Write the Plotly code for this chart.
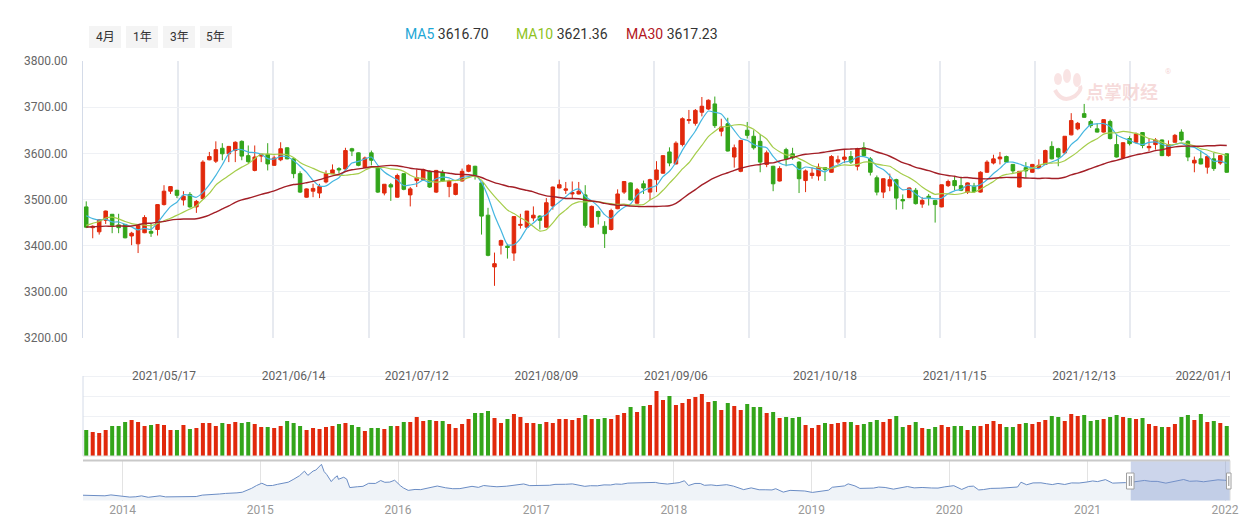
import pandas as pd
import plotly.graph_objects as go

W, H = 1246, 519

# ---------------- data ----------------
holidays = ['2021-05-03', '2021-05-04', '2021-05-05', '2021-06-14', '2021-09-20', '2021-09-21',
            '2021-10-01', '2021-10-04', '2021-10-05', '2021-10-06', '2021-10-07', '2022-01-03']
dates = [d.strftime('%Y-%m-%d') for d in pd.bdate_range('2021-04-26', '2022-01-13')
         if d.strftime('%Y-%m-%d') not in holidays]

open_ = [3484, 3439, 3430, 3455, 3468, 3445, 3446, 3421, 3404, 3428, 3431, 3435, 3489, 3518, 3520, 3499, 3511, 3484, 3502, 3586,
         3583, 3611, 3599, 3606, 3626, 3595, 3563, 3594, 3598, 3574, 3586, 3612, 3588, 3556, 3505, 3518, 3514, 3538, 3556, 3567,
         3566, 3610, 3601, 3569, 3601, 3570, 3514, 3532, 3505, 3556, 3510, 3541, 3543, 3561, 3516, 3559, 3528, 3511, 3540, 3561,
         3572, 3536, 3466, 3354, 3401, 3399, 3384, 3444, 3440, 3460, 3464, 3440, 3486, 3525, 3520, 3512, 3512, 3510, 3440, 3474,
         3442, 3435, 3480, 3516, 3536, 3492, 3534, 3516, 3543, 3557, 3603, 3577, 3619, 3671, 3665, 3689, 3696, 3707, 3648, 3664,
         3592, 3561, 3650, 3637, 3626, 3576, 3572, 3540, 3608, 3599, 3581, 3541, 3552, 3551, 3569, 3559, 3581, 3587, 3593, 3572,
         3612, 3588, 3547, 3516, 3529, 3543, 3500, 3504, 3520, 3490, 3507, 3498, 3484, 3530, 3541, 3530, 3516, 3529, 3516, 3559,
         3579, 3588, 3593, 3576, 3527, 3569, 3559, 3569, 3576, 3615, 3610, 3601, 3640, 3653, 3686, 3669, 3653, 3646, 3669, 3619,
         3590, 3632, 3624, 3645, 3612, 3619, 3629, 3595, 3624, 3646, 3626, 3579, 3588, 3570, 3588, 3579, 3599]
high = [3496, 3444, 3457, 3476, 3468, 3469, 3447, 3430, 3445, 3466, 3448, 3490, 3531, 3529, 3521, 3518, 3516, 3499, 3585, 3603,
        3626, 3622, 3616, 3626, 3628, 3617, 3617, 3599, 3622, 3595, 3624, 3613, 3589, 3561, 3524, 3534, 3534, 3563, 3576, 3570,
        3612, 3612, 3602, 3593, 3606, 3572, 3533, 3536, 3556, 3557, 3527, 3565, 3567, 3563, 3564, 3564, 3543, 3536, 3567, 3576,
        3573, 3538, 3482, 3385, 3413, 3404, 3464, 3469, 3475, 3485, 3466, 3503, 3528, 3543, 3538, 3539, 3538, 3531, 3487, 3476,
        3453, 3480, 3522, 3540, 3537, 3525, 3541, 3545, 3583, 3596, 3613, 3626, 3678, 3694, 3696, 3722, 3717, 3723, 3675, 3677,
        3619, 3629, 3668, 3650, 3642, 3606, 3573, 3572, 3612, 3612, 3583, 3565, 3569, 3578, 3570, 3596, 3595, 3608, 3605, 3612,
        3624, 3592, 3552, 3546, 3556, 3545, 3511, 3526, 3525, 3505, 3512, 3499, 3532, 3543, 3550, 3548, 3537, 3536, 3561, 3585,
        3597, 3603, 3595, 3577, 3561, 3581, 3577, 3587, 3608, 3626, 3612, 3637, 3687, 3668, 3707, 3673, 3665, 3673, 3673, 3642,
        3624, 3637, 3645, 3646, 3633, 3633, 3630, 3628, 3642, 3652, 3628, 3593, 3606, 3594, 3601, 3596, 3600]
low = [3438, 3416, 3424, 3447, 3427, 3427, 3416, 3401, 3384, 3427, 3419, 3422, 3487, 3512, 3503, 3487, 3482, 3471, 3499, 3585,
       3579, 3585, 3581, 3581, 3585, 3579, 3561, 3581, 3563, 3573, 3583, 3587, 3546, 3514, 3504, 3505, 3503, 3535, 3555, 3557,
       3565, 3594, 3572, 3568, 3574, 3514, 3509, 3497, 3504, 3520, 3485, 3527, 3541, 3525, 3514, 3538, 3505, 3509, 3539, 3559,
       3543, 3424, 3377, 3313, 3381, 3372, 3367, 3437, 3439, 3453, 3435, 3439, 3478, 3524, 3512, 3502, 3511, 3439, 3439, 3446,
       3395, 3433, 3479, 3512, 3498, 3491, 3512, 3499, 3516, 3556, 3572, 3576, 3615, 3664, 3660, 3680, 3694, 3655, 3637, 3604,
       3569, 3559, 3632, 3608, 3559, 3570, 3518, 3539, 3572, 3586, 3514, 3516, 3545, 3541, 3540, 3558, 3576, 3579, 3577, 3563,
       3594, 3552, 3509, 3503, 3518, 3478, 3479, 3503, 3489, 3482, 3487, 3450, 3483, 3527, 3520, 3518, 3512, 3514, 3515, 3558,
       3576, 3576, 3579, 3557, 3526, 3547, 3558, 3568, 3575, 3587, 3572, 3598, 3639, 3650, 3677, 3655, 3645, 3645, 3630, 3591,
       3588, 3617, 3621, 3611, 3605, 3608, 3594, 3593, 3623, 3626, 3583, 3559, 3576, 3556, 3562, 3575, 3558]
close = [3440, 3442, 3456, 3475, 3444, 3439, 3417, 3427, 3444, 3461, 3427, 3489, 3518, 3528, 3509, 3507, 3484, 3496, 3581, 3593,
         3608, 3599, 3615, 3624, 3594, 3582, 3592, 3598, 3577, 3590, 3610, 3588, 3556, 3516, 3523, 3524, 3528, 3556, 3564, 3564,
         3606, 3605, 3574, 3590, 3585, 3516, 3533, 3527, 3552, 3522, 3523, 3547, 3565, 3527, 3563, 3540, 3540, 3534, 3561, 3574,
         3552, 3464, 3379, 3361, 3411, 3396, 3463, 3446, 3475, 3466, 3455, 3493, 3527, 3532, 3523, 3515, 3518, 3444, 3485, 3463,
         3426, 3476, 3512, 3539, 3499, 3521, 3525, 3543, 3564, 3595, 3579, 3622, 3675, 3673, 3693, 3702, 3715, 3660, 3657, 3605,
         3612, 3628, 3639, 3612, 3581, 3601, 3534, 3567, 3588, 3590, 3545, 3562, 3557, 3570, 3565, 3593, 3586, 3592, 3581, 3610,
         3595, 3559, 3516, 3545, 3543, 3503, 3497, 3525, 3491, 3498, 3504, 3489, 3532, 3539, 3530, 3520, 3536, 3517, 3559, 3581,
         3588, 3592, 3581, 3562, 3561, 3562, 3576, 3574, 3606, 3588, 3592, 3637, 3671, 3665, 3678, 3660, 3646, 3673, 3632, 3592,
         3623, 3621, 3642, 3617, 3615, 3629, 3595, 3619, 3639, 3629, 3592, 3585, 3577, 3593, 3567, 3595, 3559]
volume = [260, 240, 230, 260, 300, 300, 340, 360, 340, 300, 310, 320, 310, 260, 260, 310, 270, 280, 330, 330,
          300, 330, 320, 340, 330, 340, 320, 290, 290, 280, 300, 350, 330, 300, 260, 280, 270, 290, 300, 320,
          330, 310, 290, 250, 280, 280, 270, 300, 300, 340, 340, 390, 350, 360, 350, 350, 320, 280, 320, 370,
          430, 430, 450, 380, 330, 370, 420, 390, 330, 330, 320, 340, 330, 370, 370, 360, 380, 410, 370, 370,
          380, 370, 410, 430, 490, 440, 500, 510, 650, 560, 600, 510, 530, 570, 590, 620, 540, 550, 460, 530,
          500, 460, 520, 490, 490, 430, 440, 380, 390, 380, 390, 310, 280, 310, 330, 320, 330, 340, 340, 310,
          320, 340, 360, 340, 370, 400, 290, 310, 340, 280, 270, 290, 310, 290, 300, 300, 260, 300, 300, 320,
          350, 320, 290, 290, 320, 330, 320, 340, 360, 400, 390, 350, 420, 400, 410, 350, 360, 370, 390, 410,
          390, 380, 370, 380, 320, 300, 290, 290, 320, 390, 410, 360, 420, 340, 350, 330, 300]
# closes of the 29 sessions before the first candle (needed for the moving averages)
prior_close = [3419, 3446, 3445, 3463, 3405, 3443, 3411, 3367, 3363, 3418, 3435, 3457, 3441, 3466, 3484,
               3482, 3479, 3482, 3451, 3413, 3397, 3416, 3399, 3426, 3477, 3473, 3472, 3465, 3474]

date_labels = ['2021/05/17', '2021/06/14', '2021/07/12', '2021/08/09', '2021/09/06',
               '2021/10/18', '2021/11/15', '2021/12/13', '2022/01/10']
date_label_idx = [12, 32, 51, 71, 91, 114, 134, 154, 173]

ma_names = ['MA5', 'MA10', 'MA30']
ma_periods = [5, 10, 30]
ma_legend_values = ['3616.70', '3621.36', '3617.23']
range_buttons = ['4月', '1年', '3年', '5年']

nav_dates = ['2013-09-18', '2013-10-01', '2013-10-15', '2013-11-01', '2013-11-15', '2013-12-01', '2013-12-16',
             '2014-01-02', '2014-01-20', '2014-02-05', '2014-02-20', '2014-03-10', '2014-03-25', '2014-04-10',
             '2014-04-25', '2014-05-15', '2014-06-03', '2014-06-20', '2014-07-01', '2014-07-15', '2014-07-31',
             '2014-08-15', '2014-09-01', '2014-09-15', '2014-10-01', '2014-10-15', '2014-10-31', '2014-11-14',
             '2014-11-28', '2014-12-09', '2014-12-22', '2015-01-05', '2015-01-19', '2015-02-02', '2015-02-16',
             '2015-03-02', '2015-03-16', '2015-03-31', '2015-04-15', '2015-04-28', '2015-05-07', '2015-05-21',
             '2015-05-28', '2015-06-12', '2015-06-19', '2015-06-26', '2015-07-08', '2015-07-15', '2015-07-24',
             '2015-07-27', '2015-08-10', '2015-08-18', '2015-08-26', '2015-09-15', '2015-09-30', '2015-10-15',
             '2015-11-02', '2015-11-16', '2015-11-27', '2015-12-10', '2015-12-23', '2016-01-07', '2016-01-15',
             '2016-01-28', '2016-02-15', '2016-03-01', '2016-03-15', '2016-03-31', '2016-04-14', '2016-05-06',
             '2016-05-25', '2016-06-13', '2016-06-30', '2016-07-15', '2016-08-01', '2016-08-15', '2016-09-01',
             '2016-09-19', '2016-10-14', '2016-11-01', '2016-11-29', '2016-12-15', '2017-01-03', '2017-01-16',
             '2017-02-06', '2017-02-20', '2017-03-06', '2017-03-20', '2017-04-07', '2017-04-24', '2017-05-10',
             '2017-05-25', '2017-06-12', '2017-06-30', '2017-07-17', '2017-07-31', '2017-08-15', '2017-09-01',
             '2017-09-20', '2017-10-16', '2017-11-13', '2017-11-23', '2017-12-15', '2018-01-02', '2018-01-15',
             '2018-01-29', '2018-02-09', '2018-02-26', '2018-03-12', '2018-03-23', '2018-04-10', '2018-04-25',
             '2018-05-21', '2018-06-08', '2018-06-19', '2018-07-05', '2018-07-25', '2018-08-15', '2018-08-31',
             '2018-09-18', '2018-09-28', '2018-10-11', '2018-10-18', '2018-11-05', '2018-11-30', '2018-12-14',
             '2019-01-03', '2019-01-25', '2019-02-15', '2019-02-25', '2019-03-11', '2019-03-29', '2019-04-08',
             '2019-04-26', '2019-05-09', '2019-05-24', '2019-06-14', '2019-06-28', '2019-07-15', '2019-08-06',
             '2019-08-23', '2019-09-12', '2019-09-30', '2019-10-21', '2019-11-15', '2019-12-02', '2019-12-20',
             '2020-01-13', '2020-02-03', '2020-02-21', '2020-03-05', '2020-03-19', '2020-04-01', '2020-04-20',
             '2020-05-15', '2020-06-05', '2020-06-30', '2020-07-09', '2020-07-24', '2020-08-10', '2020-08-31',
             '2020-09-15', '2020-09-30', '2020-10-15', '2020-11-02', '2020-11-20', '2020-12-10', '2020-12-31',
             '2021-01-15', '2021-01-28', '2021-02-18', '2021-03-09', '2021-03-25', '2021-04-12', '2021-04-26',
             '2021-05-17', '2021-06-01', '2021-06-18', '2021-07-05', '2021-07-28', '2021-08-16', '2021-09-13',
             '2021-09-29', '2021-10-18', '2021-11-05', '2021-11-25', '2021-12-13', '2021-12-31', '2022-01-13']
nav_values = [2190, 2175, 2230, 2150, 2135, 2220, 2160,
              2110, 2010, 2040, 2130, 1990, 2060, 2130,
              2030, 2025, 2040, 2025, 2050, 2065, 2200,
              2225, 2235, 2310, 2365, 2375, 2420, 2480,
              2680, 2860, 3130, 3350, 3120, 3130, 3250,
              3335, 3450, 3750, 4080, 4520, 4110, 4530,
              4620, 5180, 4480, 4190, 3510, 3810, 4070,
              3730, 3930, 3750, 2930, 3010, 3050, 3340,
              3330, 3610, 3440, 3460, 3640, 3120, 2900,
              2660, 2750, 2730, 2860, 3000, 3080, 2910,
              2820, 2830, 2930, 3050, 2950, 3130, 3060,
              3010, 3060, 3120, 3280, 3120, 3135, 3100,
              3155, 3240, 3230, 3250, 3285, 3130, 3050,
              3110, 3100, 3190, 3180, 3275, 3250, 3360,
              3365, 3390, 3430, 3350, 3270, 3350, 3410,
              3590, 3130, 3330, 3330, 3150, 3190, 3120,
              3210, 3070, 2900, 2730, 2900, 2720, 2720,
              2700, 2820, 2580, 2490, 2660, 2590, 2600,
              2460, 2600, 2680, 2960, 3020, 3090, 3290,
              3090, 2850, 2850, 2880, 2980, 2940, 2780,
              2900, 3030, 2900, 2940, 2890, 2880, 3000,
              3115, 2750, 3040, 3070, 2700, 2740, 2850,
              2870, 2930, 2985, 3450, 3200, 3380, 3390,
              3300, 3220, 3330, 3230, 3380, 3370, 3470,
              3570, 3510, 3700, 3360, 3360, 3410, 3440,
              3520, 3620, 3530, 3530, 3360, 3520, 3710,
              3540, 3570, 3490, 3590, 3680, 3640, 3555]
nav_years = ['2014', '2015', '2016', '2017', '2018', '2019', '2020', '2021', '2022']

# ---------------- styles ----------------
RED = '#e1290c'
GREEN = '#33a51a'
MA_COLORS = ['#45b6e0', '#a5cd4a', '#a31f27']
MA_TEXT_COLORS = ['#1ea7d6', '#8fc31f', '#b3161e']
MA_WIDTHS = [1.2, 1.2, 1.4]
FONT = 'Roboto, "Noto Sans CJK SC", sans-serif'

N = len(close)
idx = list(range(N))
XD = [83 / W, 1230 / W]


def py(p):
    return 1 - p / H


def px(p):
    return p / W


fig = go.Figure()

fig.add_trace(go.Candlestick(
    x=idx, open=open_, high=high, low=low, close=close, text=dates,
    increasing=dict(line=dict(color=RED, width=1), fillcolor=RED),
    decreasing=dict(line=dict(color=GREEN, width=1), fillcolor=GREEN),
    whiskerwidth=0, hoverinfo='skip', showlegend=False, xaxis='x', yaxis='y'))

all_close = pd.Series(prior_close + close, dtype=float)
for name, n, col, w in zip(ma_names, ma_periods, MA_COLORS, MA_WIDTHS):
    ma = all_close.rolling(n).mean().iloc[-N:].tolist()
    fig.add_trace(go.Scatter(x=idx, y=ma, mode='lines', name=name,
                             line=dict(color=col, width=w, shape='spline', smoothing=0.6),
                             hoverinfo='skip', showlegend=False, xaxis='x', yaxis='y'))

vol_colors = [RED if c >= o else GREEN for o, c in zip(open_, close)]
fig.add_trace(go.Bar(x=idx, y=volume, marker=dict(color=vol_colors, line=dict(width=0)),
                     width=0.62, hoverinfo='skip', showlegend=False, xaxis='x2', yaxis='y2'))

fig.add_trace(go.Scatter(x=date_label_idx, y=[790] * len(date_label_idx), text=date_labels,
                         mode='text', textposition='middle center', cliponaxis=True,
                         textfont=dict(family=FONT, size=12, color='#5f5f5f'),
                         hoverinfo='skip', showlegend=False, xaxis='x2', yaxis='y2'))

fig.add_trace(go.Scatter(x=nav_dates, y=nav_values, mode='lines', fill='tozeroy',
                         fillcolor='#eff3f8', line=dict(color='#6a8cc4', width=1),
                         hoverinfo='skip', showlegend=False, xaxis='x3', yaxis='y3'))

grid_vals = [-0.5 + 14.69 * k for k in range(1, 12)] + [N - 0.5]

shapes = []
annotations = []
# range buttons
btn_x = [(89, 121), (126, 158), (163, 195), (200, 232)]
for (x0, x1), label in zip(btn_x, range_buttons):
    shapes.append(dict(type='rect', xref='paper', yref='paper', x0=px(x0), x1=px(x1),
                       y0=py(48), y1=py(26), fillcolor='#f4f4f4', line=dict(width=0), layer='below'))
    annotations.append(dict(xref='paper', yref='paper', x=px((x0 + x1) / 2), y=py(37),
                            text=label, showarrow=False, font=dict(family=FONT, size=12, color='#333'),
                            xanchor='center', yanchor='middle'))

# MA legend
legend_x = [403, 514, 624]
for x0, name, val, col in zip(legend_x, ma_names, ma_legend_values, MA_TEXT_COLORS):
    annotations.append(dict(xref='paper', yref='paper', x=px(x0), y=py(34), xanchor='left', yanchor='middle',
                            text=f"<span style='color:{col}'>{name}</span> {val}", showarrow=False,
                            font=dict(family=FONT, size=14, color='#333')))

# watermark
annotations.append(dict(xref='paper', yref='paper', x=px(1084), y=py(91), text='<b>点掌财经</b>',
                        showarrow=False, xanchor='left', yanchor='middle',
                        font=dict(family='"Noto Sans CJK SC", sans-serif', size=18, color='rgba(226,130,130,0.28)')))
annotations.append(dict(xref='paper', yref='paper', x=px(1168), y=py(72), text='®', showarrow=False,
                        xanchor='center', yanchor='middle',
                        font=dict(family=FONT, size=8, color='rgba(226,130,130,0.35)')))
for (cx, cy, rx, ry) in [(1058, 79, 4, 6), (1067, 76, 4, 7), (1077, 80, 4, 7)]:
    shapes.append(dict(type='circle', xref='paper', yref='paper', x0=px(cx - rx), x1=px(cx + rx),
                       y0=py(cy + ry), y1=py(cy - ry), fillcolor='rgba(226,130,130,0.22)', line=dict(width=0)))
shapes.append(dict(type='path', xref='paper', yref='paper',
                   path=f"M {px(1055)},{py(90)} Q {px(1062)},{py(104)} {px(1075)},{py(96)} Q {px(1082)},{py(90)} {px(1080)},{py(86)}",
                   line=dict(color='rgba(226,130,130,0.25)', width=4)))

# volume pane left line and bottom line
shapes.append(dict(type='line', xref='paper', yref='y2', x0=XD[0], x1=XD[0], y0=0, y1=800,
                   line=dict(color='#d4dbe8', width=1)))
shapes.append(dict(type='line', xref='paper', yref='paper', x0=XD[0], x1=XD[1], y0=py(456), y1=py(456),
                   line=dict(color='#dcdcdc', width=1)))
# navigator frame
shapes.append(dict(type='line', xref='paper', yref='paper', x0=XD[0], x1=XD[1], y0=py(460.5), y1=py(460.5),
                   line=dict(color='#c9c9c9', width=2)))
shapes.append(dict(type='line', xref='paper', yref='paper', x0=XD[1], x1=XD[1], y0=py(500.5), y1=py(460.5),
                   line=dict(color='#dcdcdc', width=1)))
# navigator selection
shapes.append(dict(type='rect', xref='x3', yref='paper', x0=dates[0], x1=dates[-1], y0=py(500.5), y1=py(461.5),
                   fillcolor='rgba(128,150,205,0.40)', line=dict(width=0), layer='above'))
for hx0, hx1 in [(1126.5, 1134), (1226.5, 1231)]:
    shapes.append(dict(type='rect', xref='paper', yref='paper', x0=px(hx0), x1=px(hx1), y0=py(489), y1=py(473),
                       fillcolor='#ffffff', line=dict(color='#a0a0a0', width=1), layer='above'))
for lx in [1129.3, 1131.3, 1228.8]:
    shapes.append(dict(type='line', xref='paper', yref='paper', x0=px(lx), x1=px(lx), y0=py(486), y1=py(476),
                       line=dict(color='#8a8a8a', width=1), layer='above'))

fig.update_layout(
    width=W, height=H, autosize=False,
    margin=dict(l=0, r=0, t=0, b=0, pad=0, autoexpand=False),
    paper_bgcolor='white', plot_bgcolor='white',
    showlegend=False, hovermode=False,
    font=dict(family=FONT, size=12, color='#666'),
    boxgap=0.22,
    xaxis=dict(domain=XD, range=[-0.5, N - 0.5], tickmode='array', tickvals=grid_vals,
               showticklabels=False, showgrid=True, gridcolor='#e7eaf0', gridwidth=1.5,
               zeroline=False, showline=False, ticks='', rangeslider=dict(visible=False),
               fixedrange=True, anchor='y', automargin=False),
    yaxis=dict(domain=[py(338), py(61)], range=[3200, 3800], tick0=3200, dtick=100, tickformat='.2f',
               showgrid=True, gridcolor='#eff1f5', gridwidth=1, zeroline=False,
               showline=True, linecolor='#d4dbe8', linewidth=1, ticks='', ticklabelstandoff=12,
               tickfont=dict(family=FONT, color='#666', size=12), fixedrange=True, anchor='x',
               automargin=False),
    xaxis2=dict(domain=XD, range=[-0.5, N - 0.5], anchor='y2', showticklabels=False, showgrid=False,
                zeroline=False, showline=False, ticks='', fixedrange=True, automargin=False),
    yaxis2=dict(domain=[py(456), py(366)], range=[0, 900], tick0=0, dtick=200, showgrid=True,
                gridcolor='#eff1f5', showticklabels=False, zeroline=False, showline=False,
                ticks='', fixedrange=True, anchor='x2', automargin=False),
    xaxis3=dict(domain=XD, type='date', range=['2013-09-18', '2022-01-14'], anchor='y3',
                tickmode='array', tickvals=[f'{y}-01-01' for y in nav_years], ticktext=nav_years,
                showgrid=True, gridcolor='#e3e3e3', gridwidth=1, zeroline=False, showline=False, ticks='',
                tickfont=dict(family=FONT, color='#999', size=12), fixedrange=True, automargin=False),
    yaxis3=dict(domain=[py(500.5), py(461)], range=[1680, 5500], showgrid=False, showticklabels=False,
                zeroline=False, showline=False, ticks='', fixedrange=True, anchor='x3', automargin=False),
    shapes=shapes,
    annotations=annotations,
)

fig.write_html('out.html', config={'displayModeBar': False},
               post_script="document.body.style.margin='0';document.body.style.padding='0';"
                           "document.documentElement.style.overflow='hidden';")
